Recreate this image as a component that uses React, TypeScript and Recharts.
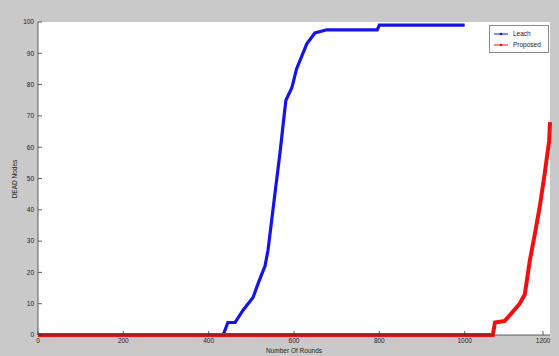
import { LineChart, Line, XAxis, YAxis, CartesianGrid, Legend } from "recharts";

const xTicks = [0, 200, 400, 600, 800, 1000, 1200];
const yTicks = [0, 10, 20, 30, 40, 50, 60, 70, 80, 90, 100];

const leachRounds = [0, 434, 445, 462, 481, 504, 516, 532, 539, 548, 557, 567, 576, 581, 595, 606, 618, 630, 649, 677, 795, 800, 1000];
const leachDead = [0, 0, 4, 4, 8, 12, 16.5, 22, 27, 37, 47, 58, 69, 75, 79, 85, 89, 93, 96.5, 97.5, 97.5, 99, 99];

const proposedRounds = [0, 1066, 1071, 1094, 1110, 1129, 1141, 1146, 1153, 1165, 1176, 1188, 1198, 1200];
const proposedDead = [0, 0, 4, 4.5, 7, 10, 13, 17.6, 24, 32.6, 41, 52, 62, 68];

const leachData = leachRounds.map((round, i) => ({ round, dead: leachDead[i] }));
const proposedData = proposedRounds.map((round, i) => ({ round, dead: proposedDead[i] }));

const FONT = "'Liberation Sans', Arial, sans-serif";
const AXIS = "#3a3a3a";

const BottomTick = (props: any) => {
  const { x, y, payload } = props;
  return (
    <g>
      <line x1={x} x2={x} y1={y} y2={y - 4} stroke={AXIS} strokeWidth={0.8} />
      <text x={x} y={y + 8} textAnchor="middle" fontSize={6.5} fontFamily={FONT} fill="#222">
        {payload.value}
      </text>
    </g>
  );
};

const TopTick = (props: any) => {
  const { x, y } = props;
  return <line x1={x} x2={x} y1={y} y2={y + 4} stroke={AXIS} strokeWidth={0.8} />;
};

const LeftTick = (props: any) => {
  const { x, y, payload } = props;
  return (
    <g>
      <line x1={x} x2={x + 4} y1={y} y2={y} stroke={AXIS} strokeWidth={0.8} />
      <text x={x - 4} y={y + 2.3} textAnchor="end" fontSize={6.5} fontFamily={FONT} fill="#222">
        {payload.value}
      </text>
    </g>
  );
};

const RightTick = (props: any) => {
  const { x, y } = props;
  return <line x1={x} x2={x - 4} y1={y} y2={y} stroke={AXIS} strokeWidth={0.8} />;
};

const LegendBox = (props: any) => {
  const items = props.payload || [];
  return (
    <div
      style={{
        background: "#fff",
        border: "1px solid #8a8a8a",
        width: 58,
        padding: "2px 0",
        fontFamily: FONT,
        fontSize: 6.5,
        color: "#222",
      }}
    >
      {items.map((it: any) => (
        <div key={it.value} style={{ display: "flex", alignItems: "center", height: 11 }}>
          <svg width={20} height={8} style={{ marginLeft: 2 }}>
            <line x1={2} x2={16} y1={4} y2={4} stroke={it.color} strokeWidth={1} />
            <circle cx={9} cy={4} r={1.3} fill={it.color} />
          </svg>
          <span style={{ marginLeft: 1 }}>{it.value}</span>
        </div>
      ))}
    </div>
  );
};

export default function App() {
  return (
    <div style={{ position: "absolute", left: 0, top: 0, width: 559, height: 356, background: "#c9c9c9" }}>
      <LineChart width={559} height={356} margin={{ top: 22, right: 9, left: 0, bottom: 0 }}>
        <CartesianGrid horizontal={false} vertical={false} fill="#ffffff" stroke="none" />
        <XAxis
          dataKey="round"
          type="number"
          domain={[0, 1200]}
          ticks={xTicks}
          height={21}
          tickSize={0}
          tickMargin={0}
          tick={<BottomTick />}
          axisLine={{ stroke: AXIS, strokeWidth: 0.8 }}
          label={{
            content: () => (
              <text x={294} y={353} textAnchor="middle" fontSize={6.5} fontFamily={FONT} fill="#222">
                Number Of Rounds
              </text>
            ),
          }}
        />
        <XAxis
          xAxisId="top"
          orientation="top"
          type="number"
          domain={[0, 1200]}
          ticks={xTicks}
          height={0}
          tickSize={0}
          tickMargin={0}
          tick={<TopTick />}
          axisLine={{ stroke: AXIS, strokeWidth: 0.8 }}
          label={{
            content: () => (
              <text x={294} y={16} textAnchor="middle" fontSize={6.5} fontFamily={FONT} fill="#222">
                Number Of DEAD Nodes
              </text>
            ),
          }}
        />
        <YAxis
          type="number"
          domain={[0, 100]}
          ticks={yTicks}
          width={38}
          tickSize={0}
          tickMargin={0}
          tick={<LeftTick />}
          axisLine={{ stroke: AXIS, strokeWidth: 0.8 }}
          label={{
            content: () => (
              <text
                x={17}
                y={179}
                transform="rotate(-90 17 179)"
                textAnchor="middle"
                fontSize={6.5}
                fontFamily={FONT}
                fill="#222"
              >
                DEAD Nodes
              </text>
            ),
          }}
        />
        <YAxis
          yAxisId="right"
          orientation="right"
          type="number"
          domain={[0, 100]}
          ticks={yTicks}
          width={0}
          tickSize={0}
          tickMargin={0}
          tick={<RightTick />}
          axisLine={{ stroke: AXIS, strokeWidth: 0.8 }}
        />
        <Legend
          layout="vertical"
          align="center"
          verticalAlign="middle"
          content={<LegendBox />}
          wrapperStyle={{ position: "absolute", top: 25, left: 489, width: 60, height: 28 }}
        />
        <Line
          data={leachData}
          dataKey="dead"
          name="Leach"
          stroke="#1414e6"
          strokeWidth={3.2}
          dot={false}
          isAnimationActive={false}
        />
        <Line
          data={proposedData}
          dataKey="dead"
          name="Proposed"
          stroke="#f01010"
          strokeWidth={4}
          dot={false}
          isAnimationActive={false}
        />
      </LineChart>
    </div>
  );
}
